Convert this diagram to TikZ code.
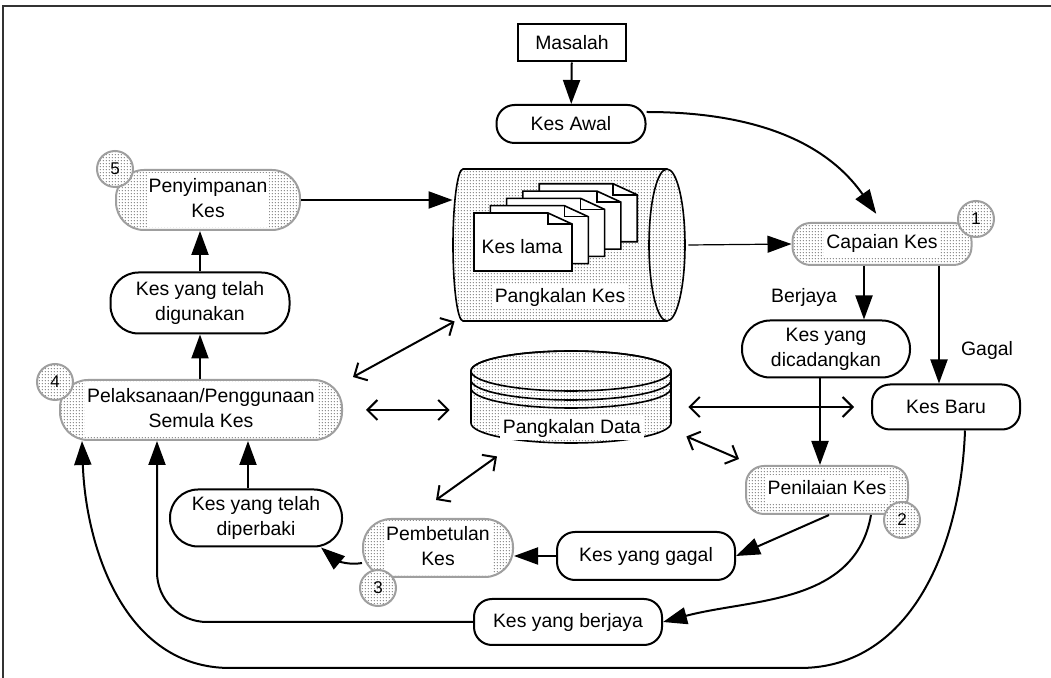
\documentclass[tikz,border=0pt]{standalone}
\usepackage{fontspec}
\setmainfont{Liberation Sans}
\usetikzlibrary{positioning, arrows.meta, calc, patterns.meta}

% dotted fill
\tikzdeclarepattern{
  name=bintik,
  type=uncolored,
  bounding box={(0pt,0pt) and (1.6pt,1.6pt)},
  tile size={(1.6pt,1.6pt)},
  code={\pgfpathcircle{\pgfqpoint{0.8pt}{0.8pt}}{0.34pt}\pgfusepath{fill}}
}

\newcommand{\latar}[1]{{\setlength{\fboxsep}{1pt}\colorbox{white}{\begin{tabular}{@{}c@{}}#1\end{tabular}}}}

\begin{document}
\begin{tikzpicture}[x=0.5pt, y=-0.5pt,
    font=\fontsize{9.7}{12.5}\selectfont,
    kes/.style={draw, line width=1pt, rounded corners=9pt, align=center, inner sep=1pt},
    tinggi/.style={rounded corners=14pt},
    proses/.style={kes, draw=gray!75, preaction={fill=white}, pattern=bintik, pattern color=black!60},
    nombor/.style={circle, draw=gray!75, line width=1pt, preaction={fill=white}, pattern=bintik, pattern color=black!60, minimum size=18pt, inner sep=0pt, font=\fontsize{8.5}{10}\selectfont},
    anak/.style={-{Triangle[length=12pt, width=8.5pt]}, line width=1pt},
    tipis/.style={-{Triangle[length=12pt, width=8.5pt]}, line width=0.6pt},
    dua/.style={{Straight Barb[length=5pt, width=10pt]}-{Straight Barb[length=5pt, width=10pt]}, line width=1pt},
    teks/.style={fill=white, inner sep=1.5pt}]
    \useasboundingbox (0,0) rectangle (1051,678);

    % Frame
    \draw[line width=0.6pt, black!80] (3,678) -- (3,6) -- (1051,6);

    % Pangkalan Kes
    \node[minimum width=117.5pt, minimum height=76pt, inner sep=0pt] (pkes) at (570.5,245) {};
    \draw[line width=0.8pt, preaction={fill=white}, pattern=bintik, pattern color=black!60]
        (463,169) -- (667,169) arc[start angle=90, end angle=-90, x radius=9pt, y radius=38pt]
        -- (463,321) arc[start angle=270, end angle=90, x radius=5pt, y radius=38pt] -- cycle;
    \draw[line width=0.8pt] (667,169) arc[start angle=90, end angle=270, x radius=9pt, y radius=38pt];
    \foreach \k in {4,3,2,1,0} {
        \draw[line width=0.8pt, fill=white, shift={(16.3*\k,-7.3*\k)}]
            (474,213) -- (548,213) -- (572,224) -- (572,271) -- (474,271) -- cycle;
        \draw[line width=0.8pt, shift={(16.3*\k,-7.3*\k)}] (548,213) -- (548,224) -- (572,224);
    }
    \node (lama) at (522,247) {Kes lama};
    \node[teks] (pkesteks) at (560,297) {Pangkalan Kes};

    % Pangkalan Data
    \node[minimum width=100pt, minimum height=46pt, inner sep=0pt] (pdata) at (571,397) {};
    \draw[line width=0.8pt, preaction={fill=white}, pattern=bintik, pattern color=black!60]
        (471,371) -- (471,423) arc[start angle=180, end angle=360, x radius=50pt, y radius=10pt]
        -- (671,371) arc[start angle=0, end angle=180, x radius=50pt, y radius=10pt] -- cycle;
    \draw[line width=0.8pt] (571,371) ellipse[x radius=50pt, y radius=10pt];
    \draw[line width=0.8pt] (471,380) arc[start angle=180, end angle=360, x radius=50pt, y radius=10pt];
    \draw[line width=0.8pt] (471,388) arc[start angle=180, end angle=360, x radius=50pt, y radius=10pt];
    \node[teks] (pdatateks) at (572,428) {Pangkalan Data};

    % Nodes
    \node[draw, line width=1pt, minimum width=54pt, minimum height=18.5pt] (masalah) at (572,43) {Masalah};
    \node[kes, minimum width=74.5pt, minimum height=19pt] (awal) at (571,124) {Kes Awal};
    \node[proses, minimum width=89.5pt, minimum height=21pt] (capaian) at (882,244) {\latar{Capaian Kes}};
    \node[kes, tinggi, minimum width=84pt, minimum height=28.5pt] (dicadang) at (826,349) {Kes yang\\dicadangkan};
    \node[kes, minimum width=74pt, minimum height=22.5pt] (baru) at (946,407) {Kes Baru};
    \node[proses, minimum width=81pt, minimum height=24pt] (penilaian) at (827,490) {\latar{Penilaian Kes}};
    \node[kes, minimum width=89pt, minimum height=24pt] (gagal) at (646,556) {Kes yang gagal};
    \node[proses, tinggi, minimum width=75pt, minimum height=28.5pt] (pembetulan) at (438,548) {\latar{Pembetulan\\Kes}};
    \node[kes, tinggi, minimum width=86pt, minimum height=28.5pt] (diperbaki) at (256,518) {Kes yang telah\\diperbaki};
    \node[kes, minimum width=94pt, minimum height=23pt] (berjaya) at (568,622) {Kes yang berjaya};
    \node[proses, tinggi, minimum width=141pt, minimum height=30pt] (pelaksanaan) at (201,410) {\latar{Pelaksanaan/Penggunaan\\Semula Kes}};
    \node[kes, tinggi, minimum width=89.5pt, minimum height=30.5pt] (digunakan) at (200,303) {Kes yang telah\\digunakan};
    \node[proses, tinggi, minimum width=92pt, minimum height=30pt] (penyimpanan) at (208,200) {\latar{Penyimpanan\\Kes}};

    % Numbers
    \node[nombor] (n1) at (976,219) {1};
    \node[nombor] (n2) at (902,520) {2};
    \node[nombor] (n3) at (378,588) {3};
    \node[nombor] (n4) at (55,382) {4};
    \node[nombor] (n5) at (115,169) {5};

    % Labels
    \node (lulus) at (804,297) {Berjaya};
    \node (gagalteks) at (987,350) {Gagal};

    % Arrows
    \draw[anak] (masalah) -- (awal);
    \draw[anak, shorten >=5pt] ([yshift=6pt]awal.east) to[out=0, in=125] (capaian.north);
    \draw[tipis] (pkes.east) -- (capaian.west);
    \draw[anak] ([xshift=-9pt]capaian.south) -- ([xshift=-9pt]capaian.south |- dicadang.north);
    \draw[anak] ([xshift=28.5pt]capaian.south) -- ([xshift=28.5pt]capaian.south |- baru.north);
    \draw[anak] ([xshift=-3pt]dicadang.south) -- ([xshift=-3pt]dicadang.south |- penilaian.north);
    \draw[anak] ([xshift=1pt]penilaian.south) -- (gagal.east);
    \draw[anak] ([xshift=22pt]penilaian.south) to[out=-100, in=15] (berjaya.east);
    \draw[anak] (gagal.west) -- (gagal.west -| pembetulan.east);
    \draw[anak] ([yshift=-7.5pt]pembetulan.west) to[out=190, in=-40] ([xshift=-11pt]diperbaki.south east);
    \draw[anak] ([xshift=-4pt]diperbaki.north) -- ([xshift=-4pt]diperbaki.north |- pelaksanaan.south);
    \draw[anak, rounded corners=25pt] (berjaya.west) -| ([xshift=-22pt]pelaksanaan.south);
    \draw[anak] ([xshift=9.5pt]baru.south) to[out=-92, in=0] (800,668) -- (230,668)
        to[out=180, in=-88] ([xshift=-59.5pt]pelaksanaan.south);
    \draw[anak] (digunakan.south |- pelaksanaan.north) -- (digunakan.south);
    \draw[anak] (digunakan.north) -- (digunakan.north |- penyimpanan.south);
    \draw[anak] (penyimpanan.east) -- (penyimpanan.east -| pkes.west);

    % Database links
    \draw[dua] ([xshift=5pt, yshift=1pt]pelaksanaan.north east) -- ([xshift=1pt]pkes.south west);
    \draw[dua] ([xshift=11.5pt]pelaksanaan.east) -- ([xshift=-10.5pt]pelaksanaan.east -| pdata.west);
    \draw[dua] ([xshift=8.5pt]baru.west -| pdata.east) -- ([xshift=-8.5pt]baru.west);
    \draw[dua] ([shift={(7.5pt,3.5pt)}]pdata.south east) -- ([shift={(-3pt,3pt)}]penilaian.north west);
    \draw[dua] ([xshift=-37pt, yshift=-6.5pt]pdata.south) -- ([xshift=-1pt, yshift=9pt]pembetulan.north);
\end{tikzpicture}
\end{document}
